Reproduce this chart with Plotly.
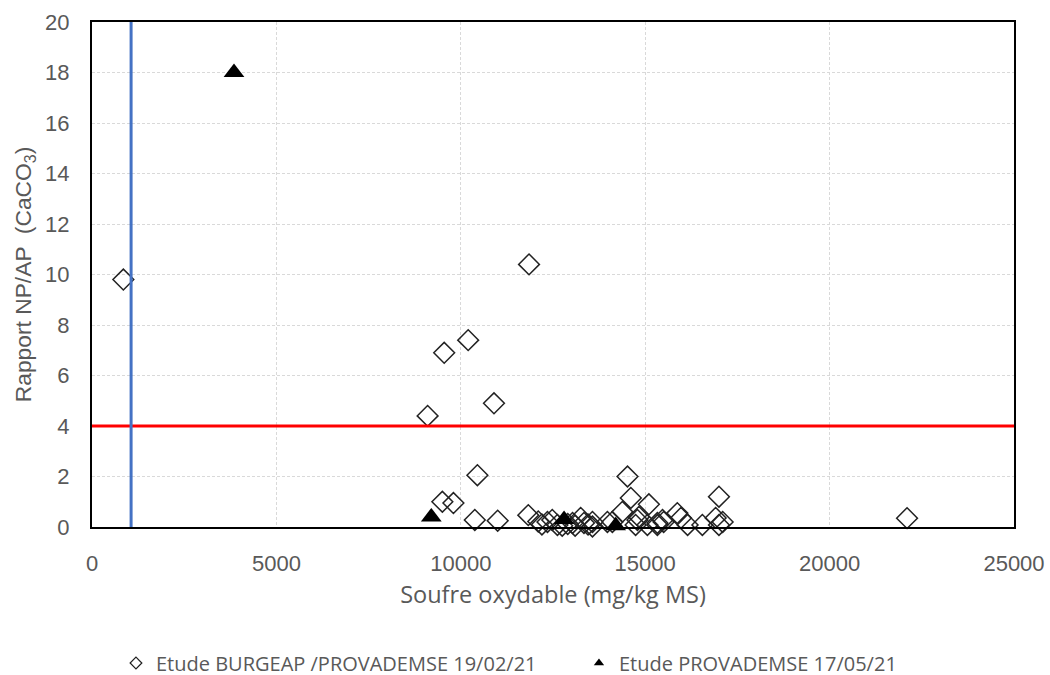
import plotly.graph_objects as go

# --- data ---
burgeap_x = [850, 9100, 9550, 10200, 10900, 11850, 10450, 9500, 9800, 10380,
             11000, 11830, 12100, 12200, 12350, 12480, 12620, 12750, 12900, 13030,
             13100, 13250, 13340, 13450, 13570, 13570, 13975, 14110, 14520, 14610,
             14380, 15100, 14830, 14790, 14740, 15060, 15330, 15330, 15470, 15500,
             15870, 15970, 16150, 16550, 17000, 16910, 17000, 17100, 22100]
burgeap_y = [9.8, 4.4, 6.9, 7.4, 4.9, 10.4, 2.05, 1.0, 0.95, 0.28,
             0.25, 0.47, 0.22, 0.1, 0.2, 0.28, 0.08, 0.05, 0.12, 0.16,
             0.05, 0.36, 0.16, 0.1, 0.02, 0.2, 0.2, 0.2, 2.0, 1.15,
             0.6, 0.9, 0.4, 0.28, 0.08, 0.08, 0.08, 0.16, 0.28, 0.2,
             0.55, 0.36, 0.08, 0.08, 1.2, 0.36, 0.08, 0.2, 0.35]

provademse_x = [3850, 9200, 12800, 14200]
provademse_y = [18.0, 0.4, 0.3, 0.05]

name_burgeap = "Etude BURGEAP /PROVADEMSE 19/02/21"
name_provademse = "Etude PROVADEMSE 17/05/21"

threshold_ratio = 4
threshold_sulfur = 1060

x_ticks = [0, 5000, 10000, 15000, 20000, 25000]
y_ticks = [0, 2, 4, 6, 8, 10, 12, 14, 16, 18, 20]

x_title = "Soufre oxydable (mg/kg MS)"
y_title = "Rapport NP/AP  (CaCO<sub>3</sub>)"

GRAY = "#595959"
FONT = "Liberation Sans, Arial, sans-serif"
HUMANIST = "Open Sans, Liberation Sans, sans-serif"

fig = go.Figure()

fig.add_trace(go.Scatter(
    x=burgeap_x, y=burgeap_y, mode="markers", showlegend=False, cliponaxis=False,
    marker=dict(symbol="diamond-open", size=16, color="#222222", line=dict(width=1.5, color="#222222")),
))
fig.add_trace(go.Scatter(
    x=provademse_x, y=provademse_y, mode="markers", showlegend=False, cliponaxis=False,
    marker=dict(symbol="triangle-up", size=18, color="black"),
))
# legend entries (small symbols)
fig.add_trace(go.Scatter(
    x=[None], y=[None], mode="markers", name=name_burgeap, legendwidth=418,
    marker=dict(symbol="diamond-open", size=9, color="#222222", line=dict(width=1.2, color="#222222")),
))
fig.add_trace(go.Scatter(
    x=[None], y=[None], mode="markers", name=name_provademse, legendwidth=330,
    marker=dict(symbol="triangle-up", size=9, color="black"),
))

fig.add_shape(type="line", xref="x", yref="y", x0=x_ticks[0], x1=x_ticks[-1],
              y0=threshold_ratio, y1=threshold_ratio, layer="above",
              line=dict(color="#ff0000", width=3))
fig.add_shape(type="line", xref="x", yref="y", x0=threshold_sulfur, x1=threshold_sulfur,
              y0=y_ticks[0], y1=y_ticks[-1], layer="above",
              line=dict(color="#4472C4", width=3))

fig.update_layout(
    width=1050, height=675,
    paper_bgcolor="white", plot_bgcolor="white",
    margin=dict(l=92, r=36, t=22, b=148, autoexpand=False),
    font=dict(family=FONT, color=GRAY),
    showlegend=True,
    legend=dict(orientation="h", x=0.026, xanchor="left", y=-0.2693, yanchor="middle",
                font=dict(size=20, color=GRAY, family=HUMANIST),
                itemwidth=30, bgcolor="rgba(0,0,0,0)"),
)
fig.update_xaxes(
    range=[x_ticks[0], x_ticks[-1]], tickvals=x_ticks, tickformat="d",
    showgrid=True, gridcolor="#d9d9d9", griddash="3px,2px", gridwidth=1,
    showline=True, linecolor="black", linewidth=2, mirror=True,
    zeroline=False, ticks="", ticklabelstandoff=16, automargin=False,
    tickfont=dict(size=22, color=GRAY, family=FONT),
    title=dict(text=x_title, font=dict(size=23.5, color=GRAY, family=HUMANIST), standoff=11),
)
fig.update_yaxes(
    range=[y_ticks[0], y_ticks[-1]], tickvals=y_ticks,
    showgrid=True, gridcolor="#d9d9d9", griddash="3px,2px", gridwidth=1,
    showline=True, linecolor="black", linewidth=2, mirror=True,
    zeroline=False, ticks="", ticklabelstandoff=16, automargin=False,
    tickfont=dict(size=22, color=GRAY, family=FONT),
    title=dict(text=y_title, font=dict(size=22.8, color=GRAY, family=FONT), standoff=7),
)

fig.write_html(
    "out.html",
    config={"displayModeBar": False},
    post_script="document.body.style.margin='0px';document.body.style.overflow='hidden';",
)
